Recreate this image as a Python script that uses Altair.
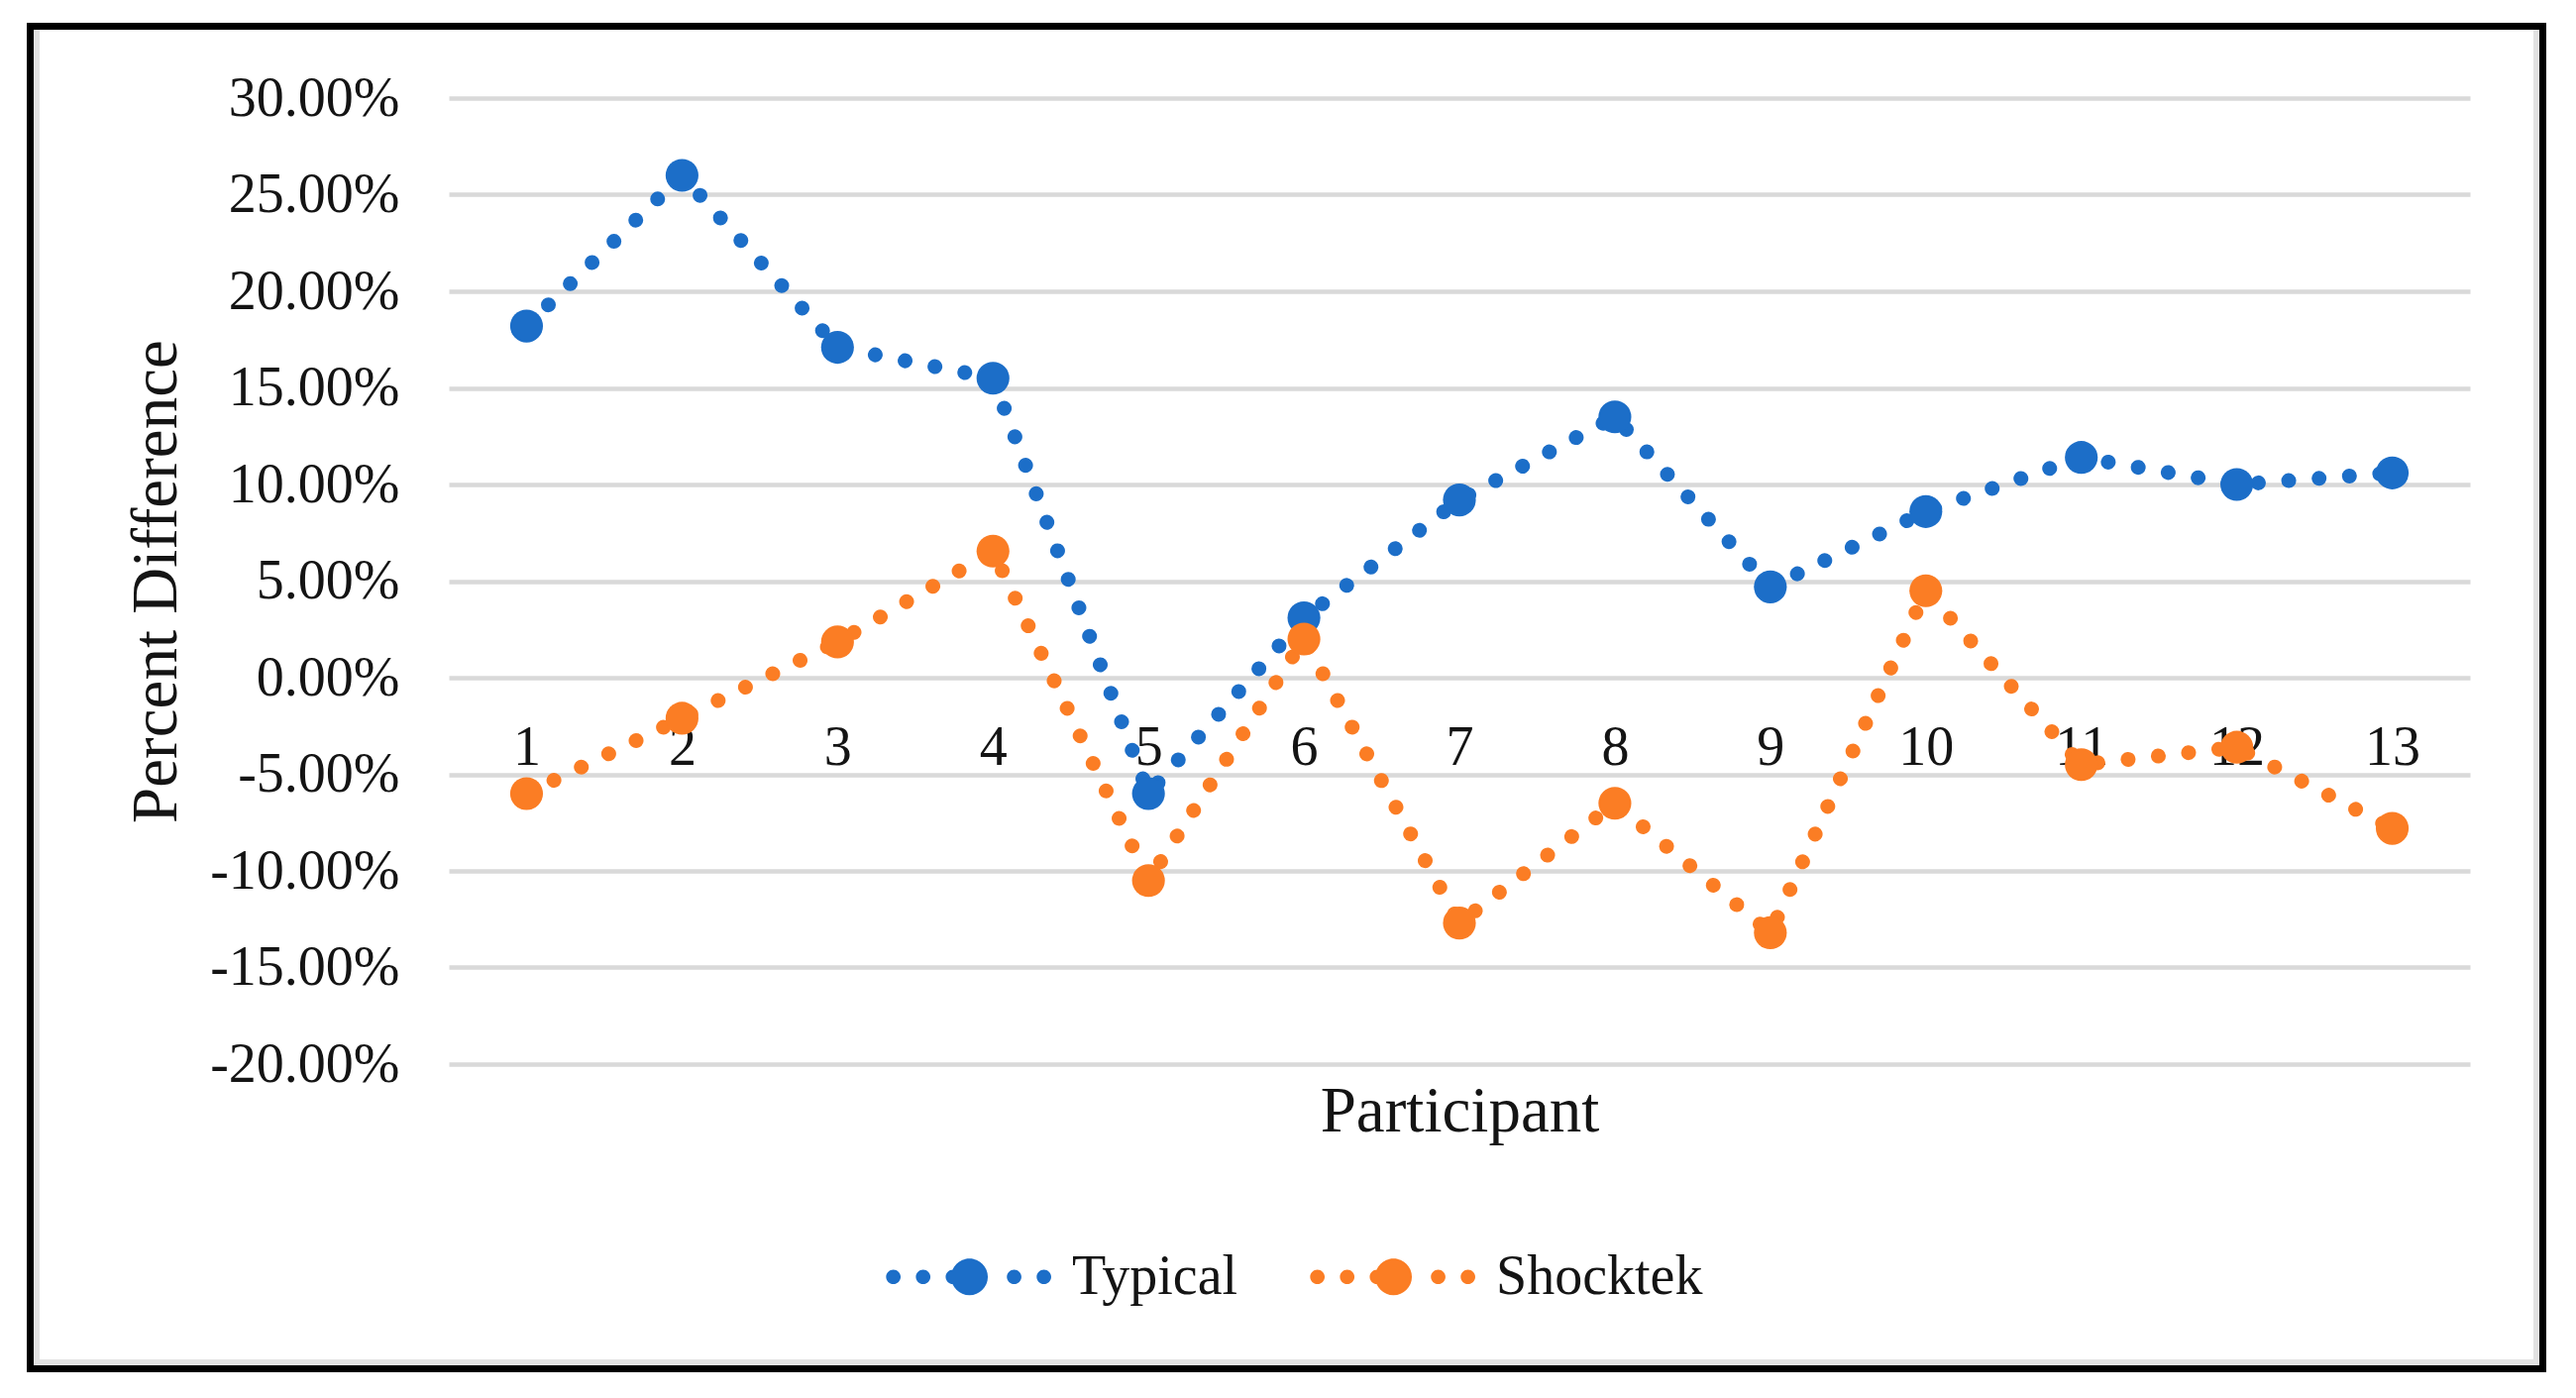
import altair as alt
import pandas as pd

# ---- data ----
participants = ["1", "2", "3", "4", "5", "6", "7", "8", "9", "10", "11", "12", "13"]
typical = [0.182, 0.260, 0.171, 0.155, -0.060, 0.031, 0.092, 0.135, 0.047, 0.086, 0.114, 0.100, 0.106]
shocktek = [-0.060, -0.021, 0.0185, 0.0655, -0.105, 0.020, -0.127, -0.065, -0.132, 0.045, -0.045, -0.036, -0.078]
series_names = ["Typical", "Shocktek"]
series_colors = ["#1C6EC8", "#FB7D24"]
y_ticks = [-0.20, -0.15, -0.10, -0.05, 0.0, 0.05, 0.10, 0.15, 0.20, 0.25, 0.30]

rows = []
for name, vals in zip(series_names, [typical, shocktek]):
    for p, v in zip(participants, vals):
        rows.append({"Participant": p, "Series": name, "Value": v})
df = pd.DataFrame(rows)

FONT = "Liberation Serif"
TXT = "#141414"
W, H = 2040, 975


def circ(cx, r):
    return f"M{cx - r},0A{r},{r} 0 1,0 {cx + r},0A{r},{r} 0 1,0 {cx - r},0Z"


legend_path = "".join(circ(c, 0.088) for c in [-0.92, -0.56, -0.2, 0.54, 0.9]) + circ(0, 0.222)

x_enc = alt.X(
    "Participant:O",
    sort=participants,
    scale=alt.Scale(type="point", padding=0.5),
    axis=alt.Axis(
        title="Participant",
        labelAngle=0,
        labelFont=FONT,
        labelFontSize=56,
        labelColor=TXT,
        labelPadding=43,
        labelLimit=400,
        ticks=False,
        tickSize=0,
        domain=False,
        grid=False,
        offset=-390,
        titleFont=FONT,
        titleFontSize=65,
        titleFontWeight="normal",
        titleColor=TXT,
        titleBaseline="alphabetic",
        titleX=W / 2,
        titleY=457,
    ),
)

y_enc = alt.Y(
    "Value:Q",
    scale=alt.Scale(domain=[-0.2, 0.3], nice=False, zero=False),
    axis=alt.Axis(
        title="Percent Difference",
        values=y_ticks,
        format=".2%",
        labelExpr="replace(datum.label, '\u2212', '-')",
        labelFont=FONT,
        labelFontSize=56,
        labelColor=TXT,
        labelPadding=50,
        labelLimit=600,
        ticks=False,
        tickSize=0,
        domain=False,
        grid=True,
        gridColor="#D9D9D9",
        gridWidth=4.5,
        titleFont=FONT,
        titleFontSize=65,
        titleFontWeight="normal",
        titleColor=TXT,
        titleAngle=270,
        titleBaseline="alphabetic",
        titleX=-276,
        titleY=H / 2,
        titleLimit=1200,
    ),
)

color_enc = alt.Color(
    "Series:N",
    scale=alt.Scale(domain=series_names, range=series_colors),
    legend=alt.Legend(
        title=None,
        orient="none",
        direction="horizontal",
        legendX=442,
        legendY=1106,
        symbolType=legend_path,
        symbolSize=27889,
        symbolStrokeWidth=0,
        symbolOpacity=1,
        labelFont=FONT,
        labelFontSize=56,
        labelColor=TXT,
        labelOffset=20,
        labelLimit=600,
        columnPadding=72,
        padding=0,
    ),
)

base = alt.Chart(df).encode(x=x_enc, y=y_enc, color=color_enc)

lines = base.mark_line(
    strokeWidth=15, strokeCap="round", strokeJoin="round", strokeDash=[0.01, 30.7]
)
points = base.mark_circle(size=1100, opacity=1)

frame_df = pd.DataFrame({"k": [0]})
frame = alt.Chart(frame_df).mark_rect(
    fill="transparent", stroke="black", strokeWidth=7
).encode(
    x=alt.value(-422.5), x2=alt.value(2113.5), y=alt.value(-72.5), y2=alt.value(1282.5)
)
shade_left = alt.Chart(frame_df).mark_rule(color="#E2E2E2", strokeWidth=6).encode(
    x=alt.value(-416), y=alt.value(-69), y2=alt.value(1279)
)
shade_right = alt.Chart(frame_df).mark_rule(color="#E2E2E2", strokeWidth=6).encode(
    x=alt.value(2107), y=alt.value(-69), y2=alt.value(1279)
)
shade_bottom = alt.Chart(frame_df).mark_rule(color="#E2E2E2", strokeWidth=6).encode(
    x=alt.value(-419), x2=alt.value(2110), y=alt.value(1276)
)

chart = (
    alt.layer(frame, shade_left, shade_right, shade_bottom, lines, points)
    .properties(
        width=W,
        height=H,
        padding={"left": 445, "top": 91, "right": 90, "bottom": 317},
        autosize=alt.AutoSizeParams(type="none"),
        background="white",
    )
    .configure_view(strokeWidth=0)
)

chart.save("out.html", embed_options={"renderer": "svg", "actions": False})
